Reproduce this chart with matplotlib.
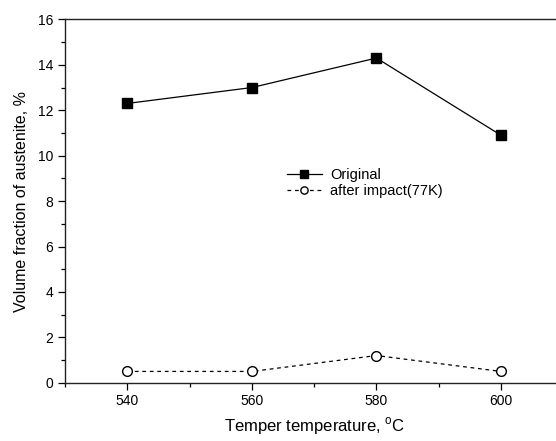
import numpy as np
import matplotlib
matplotlib.use("Agg")
import matplotlib.pyplot as plt
from matplotlib.ticker import MultipleLocator

plt.rcParams['font.family'] = ['Liberation Sans', 'DejaVu Sans']
plt.rcParams['mathtext.fontset'] = 'custom'
plt.rcParams['mathtext.rm'] = 'Liberation Sans'

# dados
temper = [540, 560, 580, 600]
original = [12.3, 13.0, 14.3, 10.9]
after_impact = [0.5, 0.5, 1.2, 0.5]

fig = plt.figure(figsize=(5.56, 4.41), dpi=100)
# eixo mais largo que a figura: a borda direita fica cortada como no original
ax = fig.add_axes([0.117, 0.132, 0.896, 0.824])

ax.plot(temper, original, color="black", linewidth=0.9, marker="s",
        markersize=7, markerfacecolor="black", label="Original")
ax.plot(temper, after_impact, color="black", linewidth=0.9, linestyle=(0, (3, 3)),
        marker="o", markersize=7, markerfacecolor="white", label="after impact(77K)")

ax.set_xlim(530, 610)
ax.set_ylim(0, 16)
ax.xaxis.set_major_locator(MultipleLocator(20))
ax.xaxis.set_minor_locator(MultipleLocator(10))
ax.yaxis.set_major_locator(MultipleLocator(2))
ax.yaxis.set_minor_locator(MultipleLocator(1))
ax.tick_params(which="major", direction="out", length=5, width=0.9, labelsize=10)
ax.tick_params(which="minor", direction="out", length=3, width=0.9)
ax.tick_params(axis="x", pad=3)
for s in ax.spines.values():
    s.set_linewidth(1.0)
    s.set_color("#222222")

ax.set_xlabel(r"Temper temperature, $^{\mathrm{o}}$C", fontsize=12, labelpad=5)
ax.set_ylabel("Volume fraction of austenite, %", fontsize=11.5, labelpad=6)

ax.legend(loc="upper left", bbox_to_anchor=(0.505, 0.632), bbox_transform=fig.transFigure,
          frameon=False, fontsize=10.5, handlelength=2.4, handletextpad=0.6,
          labelspacing=0.15, borderaxespad=0, markerscale=0.75)

fig.savefig("out.png", dpi=100)
